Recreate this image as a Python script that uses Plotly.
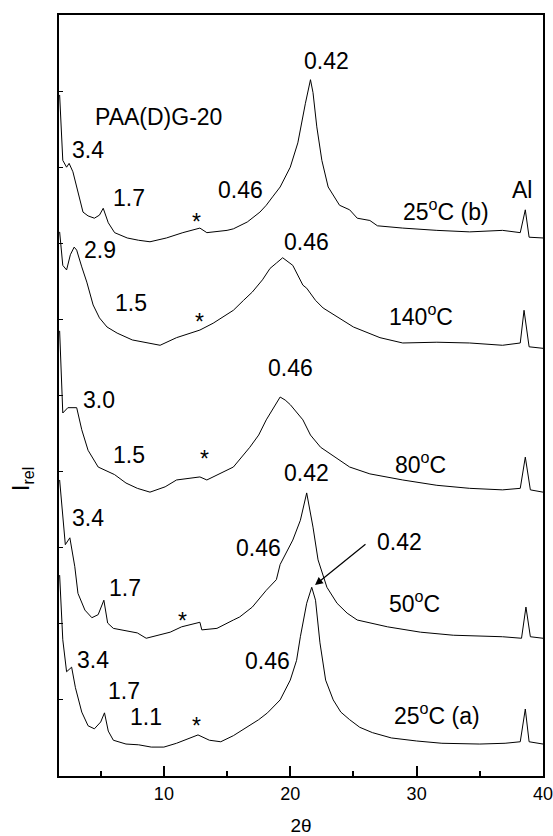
import plotly.graph_objects as go

# ---------------- data (2theta in degrees, relative intensity, stacked) ----------------
x_25a = [1.75, 2.0, 2.3, 2.7, 3.0, 3.5, 4.0, 4.5, 5.0, 5.3, 5.6, 6.0, 7, 8, 9, 10, 11, 12, 12.7,
         13.6, 14.5, 15.5, 16.5, 17.5, 18.2, 19.2, 20.0, 20.5, 20.8, 21.3, 21.7, 22.0, 22.35, 22.8,
         23.4, 24.0, 24.7, 25.5, 26.5, 28, 30, 32, 35, 37, 38.2, 38.6, 38.9, 40]
I_25a = [2.64, 1.79, 1.37, 1.43, 1.16, 0.84, 0.66, 0.62, 0.71, 0.83, 0.59, 0.47, 0.42, 0.41, 0.38,
         0.38, 0.43, 0.50, 0.54, 0.47, 0.45, 0.53, 0.63, 0.74, 0.83, 1.00, 1.26, 1.52, 1.83, 2.27,
         2.48, 2.31, 1.75, 1.26, 1.00, 0.84, 0.74, 0.64, 0.57, 0.50, 0.46, 0.43, 0.42, 0.43, 0.45,
         0.88, 0.45, 0.42]

x_50 = [1.75, 2.0, 2.2, 2.56, 2.95, 3.2, 3.75, 4.3, 4.8, 5.25, 5.55, 6.0, 7.0, 7.9, 8.6, 9.3, 10.5,
        11.4, 12.85, 13.0, 14.2, 15.5, 16.0, 17.0, 18.1, 18.9, 19.2, 20.2, 20.8, 21.3, 21.8, 22.2,
        22.9, 23.7, 24.5, 25.3, 26.5, 27.7, 30.3, 32.9, 36.8, 38.3, 38.65, 39.0, 40]
I_50 = [3.89, 3.36, 3.04, 3.13, 2.75, 2.40, 2.18, 2.08, 2.12, 2.31, 2.01, 1.94, 1.91, 1.88, 1.81,
        1.84, 1.89, 1.96, 2.02, 1.92, 1.94, 2.05, 2.09, 2.22, 2.44, 2.58, 2.78, 3.10, 3.36, 3.72,
        3.27, 2.84, 2.48, 2.27, 2.14, 2.05, 2.00, 1.96, 1.89, 1.85, 1.83, 1.81, 2.22, 1.83, 1.81]

x_80 = [1.75, 2.0, 2.4, 3.1, 3.5, 4.0, 4.8, 6.1, 7.0, 7.9, 8.9, 10.1, 11.0, 12.85, 13.4, 14.5, 15.5,
        16.8, 17.5, 18.1, 18.6, 19.2, 19.6, 20.0, 21.0, 21.6, 22.4, 23.1, 23.9, 24.7, 26.3, 28.9,
        31.6, 34.2, 36.8, 38.2, 38.6, 39.0, 40]
I_80 = [5.85, 4.77, 4.84, 4.84, 4.55, 4.28, 4.06, 3.96, 3.85, 3.78, 3.73, 3.80, 3.89, 3.93, 3.89,
        3.98, 4.06, 4.32, 4.48, 4.68, 4.81, 4.98, 4.94, 4.88, 4.68, 4.48, 4.32, 4.24, 4.15, 4.06,
        3.97, 3.89, 3.82, 3.78, 3.76, 3.78, 4.19, 3.76, 3.73]

x_140 = [1.75, 2.0, 2.3, 2.6, 2.9, 3.1, 3.5, 3.9, 4.4, 4.9, 5.5, 6.3, 7.5, 8.9, 9.7, 11.0, 12.85,
         13.9, 15.5, 16.3, 17.0, 17.8, 18.4, 18.9, 19.4, 20.2, 21.0, 21.3, 22.0, 22.6, 23.9, 25.0,
         27.1, 28.9, 31.6, 34.2, 36.8, 38.2, 38.5, 38.9, 40]
I_140 = [7.15, 6.71, 6.65, 6.85, 6.95, 6.91, 6.69, 6.49, 6.19, 6.02, 5.90, 5.82, 5.73, 5.69, 5.66,
         5.76, 5.86, 5.95, 6.12, 6.25, 6.36, 6.52, 6.67, 6.74, 6.81, 6.71, 6.45, 6.41, 6.25, 6.15,
         6.02, 5.90, 5.76, 5.69, 5.70, 5.69, 5.66, 5.69, 6.12, 5.64, 5.62]

x_25b = [1.75, 2.0, 2.3, 2.5, 2.8, 3.2, 3.6, 4.0, 4.5, 4.9, 5.2, 5.6, 6.1, 7.1, 8.0, 8.9, 10.2, 11.5,
         12.3, 12.85, 13.4, 15.0, 15.5, 16.6, 17.6, 18.1, 18.6, 19.2, 20.0, 20.6, 21.2, 21.6, 21.8,
         22.1, 22.5, 23.0, 23.9, 24.7, 25.3, 26.3, 26.9, 28.9, 31.6, 34.2, 36.8, 38.2, 38.6, 38.9, 40]
I_25b = [8.95, 8.09, 8.00, 8.05, 7.94, 7.66, 7.41, 7.36, 7.33, 7.37, 7.46, 7.27, 7.14, 7.07, 7.04,
         7.02, 7.07, 7.14, 7.17, 7.20, 7.14, 7.17, 7.19, 7.28, 7.41, 7.50, 7.61, 7.74, 8.00, 8.32,
         8.84, 9.15, 8.98, 8.53, 8.09, 7.74, 7.50, 7.44, 7.33, 7.30, 7.23, 7.20, 7.17, 7.15, 7.17,
         7.14, 7.44, 7.08, 7.07]

series = [
    ("25°C (a)", x_25a, I_25a),
    ("50°C", x_50, I_50),
    ("80°C", x_80, I_80),
    ("140°C", x_140, I_140),
    ("25°C (b)", x_25b, I_25b),
]

# labels: (text, x, y)
label_text = ["PAA(D)G-20", "0.42", "3.4", "1.7", "*", "0.46", "25<sup>o</sup>C (b)", "Al",
              "2.9", "1.5", "*", "0.46", "140<sup>o</sup>C",
              "3.0", "1.5", "*", "0.46", "80<sup>o</sup>C",
              "0.42", "3.4", "0.46", "1.7", "*", "0.42", "50<sup>o</sup>C",
              "3.4", "1.7", "1.1", "*", "0.46", "25<sup>o</sup>C (a)"]
label_x = [9.60, 22.83, 3.98, 7.23, 12.61, 16.10, 32.33, 38.35,
           4.93, 7.39, 12.85, 21.32, 30.35,
           4.85, 7.23, 13.25, 19.98, 30.27,
           21.32, 3.98, 17.52, 6.91, 11.50, 28.61, 29.87,
           4.38, 6.83, 8.57, 12.61, 18.16, 31.62]
label_y = [8.66, 9.40, 8.23, 7.60, 7.28, 7.70, 7.44, 7.70,
           6.91, 6.22, 5.97, 7.02, 6.06,
           4.94, 4.22, 4.17, 5.36, 4.11,
           3.98, 3.39, 3.00, 2.47, 2.04, 3.07, 2.29,
           1.52, 1.12, 0.78, 0.66, 1.51, 0.81]

# arrow for the 0.42 reflection of the 25°C (a) curve
arrow_tail = (26.07, 3.06)
arrow_head = (21.96, 2.51)

FONT = "Liberation Sans, Arial, sans-serif"

fig = go.Figure()
for name, xs, ys in series:
    fig.add_trace(go.Scatter(x=xs, y=ys, mode="lines", name=name,
                             line=dict(color="black", width=1), showlegend=False))

for t, x, y in zip(label_text, label_x, label_y):
    fig.add_annotation(x=x, y=y, text=t, showarrow=False, xanchor="center", yanchor="middle",
                       font=dict(family=FONT, size=23, color="black"))

fig.add_annotation(x=arrow_head[0], y=arrow_head[1], ax=arrow_tail[0], ay=arrow_tail[1],
                   xref="x", yref="y", axref="x", ayref="y", text="", showarrow=True,
                   arrowhead=2, arrowsize=1.3, arrowwidth=1.2, arrowcolor="black")

fig.add_annotation(x=-0.075, y=0.39, xref="paper", yref="paper", text="I<sub>rel</sub>",
                   textangle=-90, showarrow=False, xanchor="center", yanchor="middle",
                   font=dict(family=FONT, size=23, color="black"))

fig.update_layout(
    width=553, height=836,
    margin=dict(l=59, r=10, t=15, b=60, autoexpand=False),
    paper_bgcolor="white", plot_bgcolor="white",
    font=dict(family=FONT, color="black"),
    xaxis=dict(range=[1.7, 40], tick0=0, dtick=10, ticks="inside", ticklen=10, tickwidth=1.5,
               tickcolor="black", showline=True, linewidth=2, linecolor="black", mirror=True,
               showgrid=False, zeroline=False, tickfont=dict(size=18, family=FONT),
               automargin=False, ticklabeloverflow="allow",
               minor=dict(dtick=5, tick0=0, ticks="inside", ticklen=5, tickwidth=1.5, tickcolor="black"),
               title=dict(text="2θ", font=dict(size=19, family=FONT), standoff=19)),
    yaxis=dict(range=[0, 10], tick0=0, dtick=1, ticks="inside", ticklen=4, tickwidth=1,
               tickcolor="black", showticklabels=False, showline=True, linewidth=2,
               linecolor="black", mirror=True, showgrid=False, zeroline=False, automargin=False),
)

fig.write_html(
    "out.html",
    config={"displayModeBar": False},
    post_script="document.body.style.margin='0';document.body.style.overflow='hidden';",
)
